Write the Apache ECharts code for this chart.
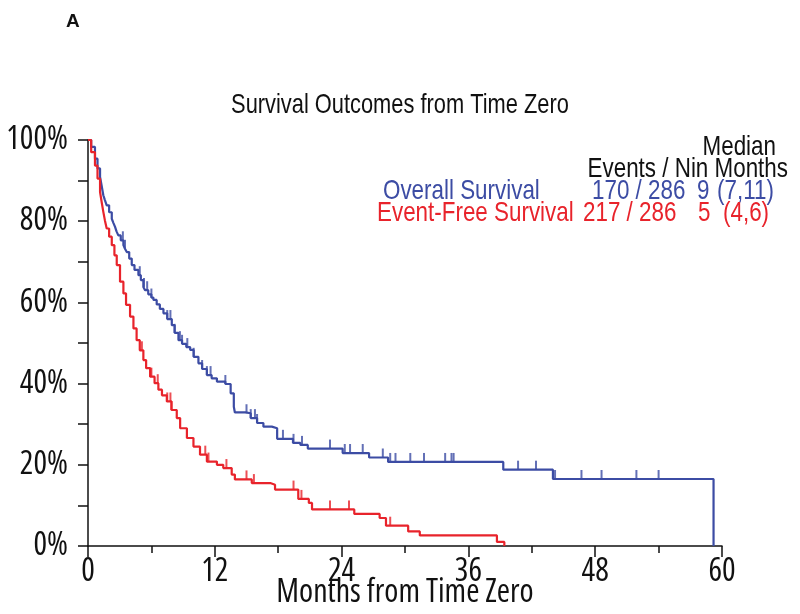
<!DOCTYPE html>
<html>
<head>
<meta charset="utf-8">
<script src="https://cdn.jsdelivr.net/npm/echarts@6/dist/echarts.min.js"></script>
<style>html,body{margin:0;padding:0;background:#fff}#c{width:800px;height:614px}</style>
</head>
<body>
<div id="c"></div>
<script>
// ---- data ----
const osTime = [0, 0.3, 0.66, 0.9, 1.14, 1.3, 1.45, 1.6, 1.77, 2.0, 2.25, 2.4, 2.56, 2.7, 2.87, 3.1, 3.35, 3.5, 3.67, 3.9, 4.14, 4.4, 4.77, 5.0, 5.24, 5.4, 5.7, 6.0, 6.19, 6.5, 6.8, 7.14, 7.5, 7.93, 8.2, 8.56, 8.9, 9.3, 9.67, 10.0, 10.45, 10.8, 11.25, 11.7, 12.2, 13.0, 13.5, 13.8, 13.9, 14.9, 15.4, 16.0, 16.6, 17.4, 17.9, 19.4, 20.1, 20.8, 24.1, 26.6, 28.4, 39.3, 44.0, 59.2];
const osSurv = [100, 98.3, 95.4, 93.0, 90.9, 88.6, 86.4, 85.2, 83.9, 82.2, 80.6, 79.6, 78.6, 77.5, 76.5, 75.3, 74.1, 73.2, 72.4, 70.8, 69.2, 68.0, 66.7, 65.5, 63.8, 63.0, 62.0, 61.2, 60.6, 59.5, 58.4, 57.3, 55.9, 54.4, 52.5, 50.7, 49.8, 49.0, 48.3, 46.6, 45.0, 43.6, 42.1, 41.3, 40.5, 39.9, 37.6, 34.3, 32.9, 32.7, 31.5, 30.3, 29.4, 29.0, 26.4, 25.4, 24.9, 24.0, 22.9, 21.8, 20.7, 18.8, 16.5, 0];
const osCensor = [3.3, 3.5, 4.9, 5.3, 5.6, 6.0, 7.5, 7.8, 8.2, 8.7, 8.9, 9.4, 10.0, 10.8, 11.25, 11.6, 13.0, 15.0, 15.4, 15.8, 16.0, 18.45, 19.45, 20.25, 22.9, 24.3, 24.8, 26.0, 27.9, 28.6, 29.1, 30.5, 31.8, 33.8, 34.4, 34.6, 40.7, 42.4, 44.2, 46.7, 48.6, 51.9, 54.0];

const efsTime = [0, 0.3, 0.66, 0.9, 1.14, 1.3, 1.45, 1.6, 1.77, 2.0, 2.25, 2.5, 2.72, 3.03, 3.35, 3.6, 3.98, 4.3, 4.6, 4.9, 5.24, 5.5, 5.88, 6.3, 6.66, 7.0, 7.46, 7.9, 8.4, 8.72, 9.36, 9.98, 10.6, 11.25, 12.2, 12.8, 13.6, 13.9, 15.5, 17.25, 17.7, 19.9, 20.9, 21.2, 25.2, 27.6, 28.2, 30.3, 31.4, 38.7, 39.4];
const efsSurv = [100, 97.0, 93.7, 90.5, 87.2, 84.6, 82.3, 80.2, 78.2, 76.2, 74.1, 71.6, 69.2, 65.1, 62.2, 59.4, 56.5, 53.6, 50.7, 48.2, 45.8, 43.8, 41.7, 40.1, 38.5, 37.1, 35.6, 33.5, 31.5, 29.0, 26.6, 24.5, 22.5, 20.8, 20.0, 19.2, 17.6, 16.4, 15.5, 15.1, 13.9, 11.6, 10.6, 9.0, 7.9, 6.9, 5.0, 3.6, 2.6, 1.0, 0];
const efsCensor = [5.1, 5.9, 6.0, 6.6, 7.5, 7.8, 7.9, 11.1, 11.4, 13.1, 15.0, 15.7, 19.45, 20.2, 22.9, 24.7, 28.6];

const titleText = 'Survival Outcomes from Time Zero';
const xName = 'Months from Time Zero';
const seriesNames = ['Overall Survival', 'Event-Free Survival'];
const eventsN = ['170 / 286', '217 / 286'];
const medians = ['9', '5'];
const medianCI = ['(7,11)', '(4,6)'];

// ---- build ----
const BLUE = '#3c4ca4';
const RED = '#e8232b';
const FONT = '"Liberation Sans", Arial, sans-serif';
const AXFONT = '"Open Sans", "Liberation Sans", sans-serif';
const SX = 0.8;

function pairs(t, s) { return t.map((v, i) => [v, s[i]]); }
function survAt(t, times, surv) {
  let v = surv[0];
  for (let i = 0; i < times.length; i++) { if (times[i] <= t) v = surv[i]; else break; }
  return v;
}
function censorPts(c, times, surv) { return c.map(t => [t, survAt(t, times, surv)]); }

const chart = echarts.init(document.getElementById('c'), null, {renderer: 'canvas'});
const legendTexts = [
  {text: 'Median', x: 776, y: 147, align: 'right', color: '#111'},
  {text: 'Events / Nin Months', x: 788, y: 169, align: 'right', color: '#111'},
  {text: seriesNames[0], x: 383, y: 191, align: 'left', color: BLUE},
  {text: eventsN[0], x: 592, y: 191, align: 'left', color: BLUE},
  {text: medians[0], x: 697, y: 191, align: 'left', color: BLUE},
  {text: medianCI[0], x: 717, y: 191, align: 'left', color: BLUE},
  {text: seriesNames[1], x: 377, y: 213, align: 'left', color: RED},
  {text: eventsN[1], x: 583, y: 213, align: 'left', color: RED},
  {text: medians[1], x: 698, y: 213, align: 'left', color: RED},
  {text: medianCI[1], x: 723, y: 213, align: 'left', color: RED}
];

const option = {
  animation: false,
  backgroundColor: '#fff',
  grid: {left: 88, right: 78, top: 140, bottom: 68, containLabel: false, outerBoundsMode: 'none'},
  xAxis: {
    type: 'value', min: 0, max: 60, interval: 12,
    name: xName, nameLocation: 'middle', nameGap: 31, nameMoveOverlap: false,
    nameTextStyle: {fontFamily: AXFONT, fontStyle: 'condensed', fontSize: 32, color: '#111'},
    axisLine: {show: true, lineStyle: {color: '#111', width: 1.5}},
    axisTick: {show: true, length: 11, lineStyle: {color: '#111', width: 1.5}},
    minorTick: {show: true, splitNumber: 2, length: 7, lineStyle: {color: '#111', width: 1.5}},
    axisLabel: {fontFamily: AXFONT, fontStyle: 'condensed', fontSize: 32, color: '#111', margin: 10},
    splitLine: {show: false}
  },
  yAxis: {
    type: 'value', min: 0, max: 100, interval: 20,
    axisLine: {show: true, lineStyle: {color: '#111', width: 1.5}},
    axisTick: {show: true, length: 10, lineStyle: {color: '#111', width: 1.5}},
    minorTick: {show: true, splitNumber: 2, length: 10, lineStyle: {color: '#111', width: 1.5}},
    axisLabel: {fontFamily: AXFONT, fontStyle: 'condensed', fontSize: 32, color: '#111', margin: 20, formatter: '{value}%'},
    splitLine: {show: false}
  },
  graphic: [
    {type: 'text', x: 66, y: 22, style: {text: 'A', font: 'bold 19px "Liberation Sans", Arial, sans-serif', fill: '#111', textVerticalAlign: 'middle'}},
    {type: 'text', x: 400, y: 105, scaleX: 0.78, style: {text: titleText, font: '28px ' + FONT, fill: '#111', textAlign: 'center', textVerticalAlign: 'middle'}}
  ].concat(legendTexts.map(t => ({
    type: 'text', x: t.x, y: t.y, scaleX: SX,
    style: {text: t.text, font: '28px ' + FONT, fill: t.color, textAlign: t.align, textVerticalAlign: 'middle'}
  }))),
  series: [
    {type: 'line', step: 'end', data: pairs(osTime, osSurv), showSymbol: false, symbol: 'none',
     lineStyle: {color: BLUE, width: 2.2}, z: 3},
    {type: 'line', step: 'end', data: pairs(efsTime, efsSurv), showSymbol: false, symbol: 'none',
     lineStyle: {color: RED, width: 2.2}, z: 4},
    {type: 'scatter', data: censorPts(osCensor, osTime, osSurv), symbol: 'rect', symbolSize: [2, 9],
     symbolOffset: [0, -4.5], itemStyle: {color: BLUE}, z: 3},
    {type: 'scatter', data: censorPts(efsCensor, efsTime, efsSurv), symbol: 'rect', symbolSize: [2, 9],
     symbolOffset: [0, -4.5], itemStyle: {color: RED}, z: 4}
  ]
};
chart.setOption(option);
</script>
</body>
</html>
